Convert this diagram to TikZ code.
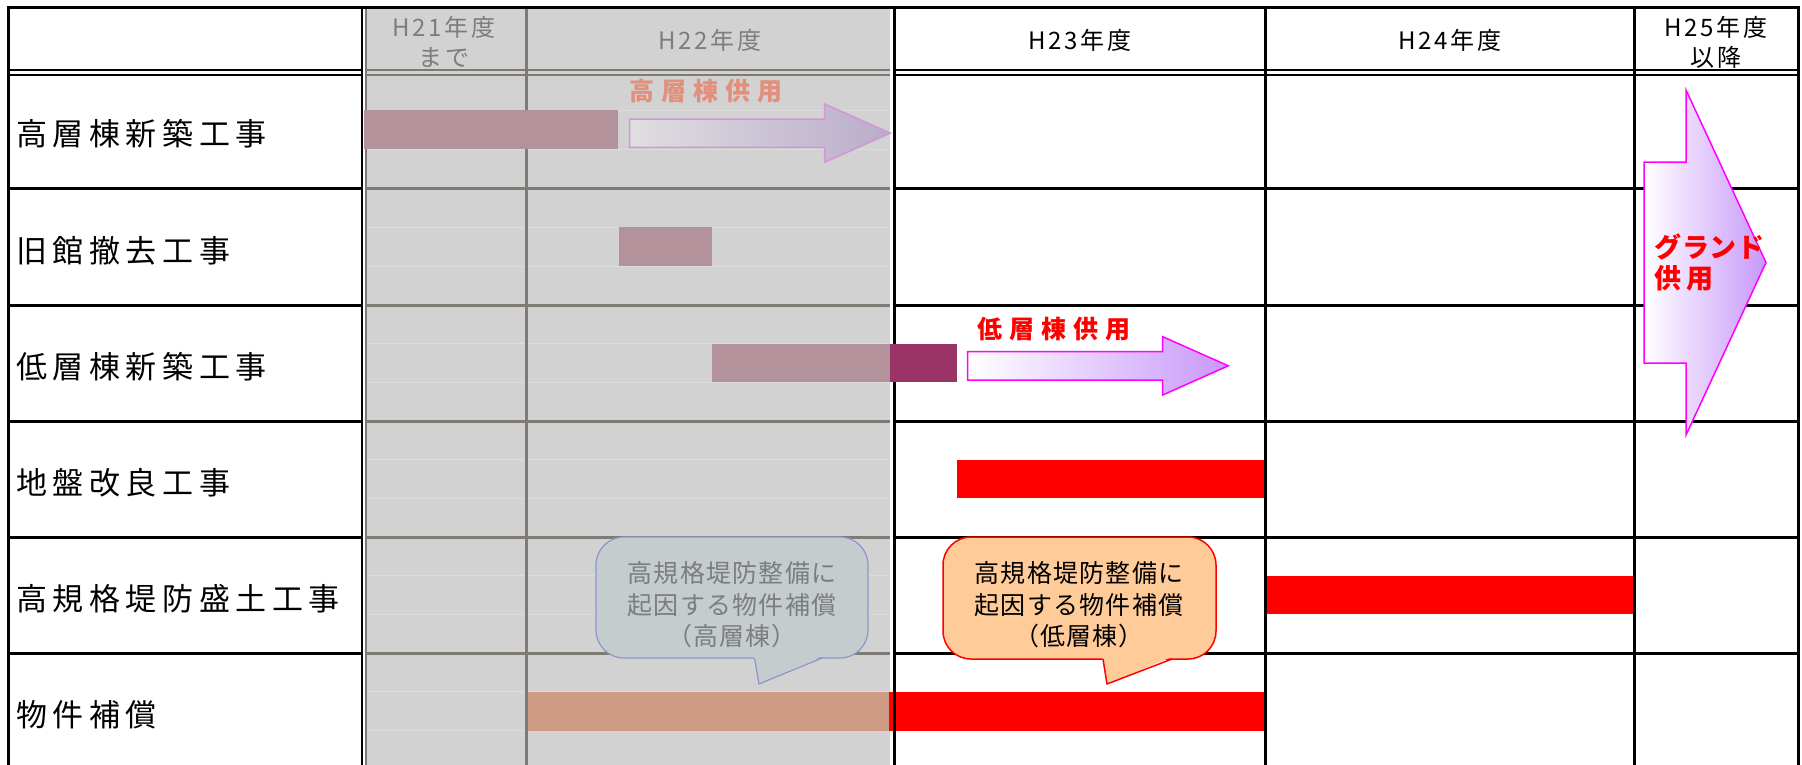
\documentclass[tikz,border=0pt]{standalone}
\usepackage{fontspec}
\setmainfont{Noto Sans CJK JP}
\newfontfamily\labfam[LetterSpace=18]{Noto Sans CJK JP}
\newfontfamily\hdrfam[LetterSpace=11]{Noto Sans CJK JP}
\newfontfamily\callfam[LetterSpace=5]{Noto Sans CJK JP}
\newfontfamily\usefam[LetterSpace=28]{Noto Sans CJK JP}
\newfontfamily\grandfam[LetterSpace=18]{Noto Sans CJK JP}
\newfontfamily\katafam[LetterSpace=3]{Noto Sans CJK JP}
\definecolor{gbg}{RGB}{210,210,210}
\definecolor{gline}{RGB}{128,122,117}
\definecolor{gfaint}{RGB}{220,220,220}
\definecolor{mbar}{RGB}{179,146,156}
\definecolor{sbar}{RGB}{208,155,132}
\definecolor{dbar}{RGB}{153,51,102}
\definecolor{lav}{RGB}{200,152,250}
\definecolor{mag}{RGB}{255,0,255}
\definecolor{mlav}{RGB}{185,172,202}
\definecolor{mleft}{RGB}{224,222,224}
\definecolor{mmag}{RGB}{212,150,212}
\definecolor{mtext}{RGB}{226,144,124}
\definecolor{gtext}{RGB}{125,125,125}
\definecolor{cfill}{RGB}{196,204,206}
\definecolor{cbord}{RGB}{140,150,200}
\definecolor{ofill}{RGB}{255,204,153}
\tikzset{
  rowlab/.style={anchor=west, inner sep=0pt, font=\labfam\fontsize{31}{36}\selectfont},
  hdr/.style={inner sep=0pt, align=center, font=\hdrfam\fontsize{24}{30}\selectfont},
  ctext/.style={inner sep=0pt, align=center, font=\callfam\fontsize{25}{31.5}\selectfont},
  usetext/.style={inner sep=0pt, font=\usefam\bfseries\fontsize{25}{30}\selectfont},
  grandtext/.style={inner sep=0pt, anchor=west, align=left, font=\grandfam\bfseries\fontsize{27}{31}\selectfont, text=red},
  blk/.style={draw=black, line width=3pt},
  blkthin/.style={draw=black, line width=2pt},
  gry/.style={draw=gline, line width=3pt},
  grythin/.style={draw=gline, line width=2pt},
  faint/.style={draw=gfaint, line width=1pt},
}
\begin{document}
\begin{tikzpicture}[x=1pt,y=-1pt]
\useasboundingbox (0,0) rectangle (1802,764);
\fill[white] (0,0) rectangle (1802,764);
\begin{scope}
\clip (0,0) rectangle (1802,764);
% gray (past) region
\fill[gbg] (366,8) rectangle (890,770);
\foreach \t/\b in {71/188,188/305,305/421,421/537,537/653,653/769}{
  \draw[faint] (367,{\t+(\b-\t)/3}) -- (890,{\t+(\b-\t)/3});
  \draw[faint] (367,{\t+2*(\b-\t)/3}) -- (890,{\t+2*(\b-\t)/3});
}
% gray grid lines
\draw[grythin] (365.5,8) -- (365.5,770);
\draw[gry] (526,8) -- (526,770);
\draw[grythin] (366,70) -- (890,70);
\draw[grythin] (366,75) -- (890,75);
\foreach \y in {188,305,421,537,653}{\draw[gry] (366,\y) -- (890,\y);}
% bars
\fill[mbar] (364,110) rectangle (618,149);
\fill[mbar] (619,227) rectangle (712,266);
\fill[mbar] (712,343.7) rectangle (890,382);
\fill[red] (957,459.7) rectangle (1264,498.3);
\fill[red] (1266,575.7) rectangle (1634,614.3);
\fill[sbar] (528,692) rectangle (889,730.5);
\fill[red] (889,692) rectangle (1264,730.5);
% black grid lines
\draw[blk] (6.5,7) -- (1799.5,7);
\draw[blk] (8,7) -- (8,770);
\draw[blk] (1798,7) -- (1798,770);
\draw[blkthin] (361.5,7) -- (361.5,770);
\draw[blk] (894,7) -- (894,770);
\draw[blk] (1265,7) -- (1265,770);
\draw[blk] (1634,7) -- (1634,770);
\draw[blkthin] (8,70) -- (361.5,70);
\draw[blkthin] (8,75) -- (361.5,75);
\draw[blkthin] (892.5,70) -- (1798,70);
\draw[blkthin] (892.5,75) -- (1798,75);
\foreach \y in {188,305,421,537,653}{
  \draw[blk] (8,\y) -- (361.5,\y);
  \draw[blk] (892.5,\y) -- (1798,\y);
}
\fill[dbar] (890,343.7) rectangle (957,381.5);
% header texts
\node[hdr, text=gtext] (h21) at (444,42) {H21年度\\まで};
\node[hdr, text=gtext] (h22) at (710,40) {H22年度};
\node[hdr] (h23) at (1080,40) {H23年度};
\node[hdr] (h24) at (1450,40) {H24年度};
\node[hdr] (h25) at (1716,42) {H25年度\\以降};
% row labels
\node[rowlab] (r1) at (16,133.5) {高層棟新築工事};
\node[rowlab] (r2) at (16,250.5) {旧館撤去工事};
\node[rowlab] (r3) at (16,367) {低層棟新築工事};
\node[rowlab] (r4) at (16,483) {地盤改良工事};
\node[rowlab] (r5) at (16,599) {高規格堤防盛土工事};
\node[rowlab] (r6) at (16,715) {物件補償};
% arrows
\path[draw=mmag, line width=1.5pt, left color=mleft, right color=mlav]
  (629.7,119) -- (824.7,119) -- (824.7,104) -- (890.3,133.1) -- (824.7,162.3) -- (824.7,147.3) -- (629.7,147.3) -- cycle;
\node[usetext, text=mtext] (u1) at (706,91) {高層棟供用};
\path[draw=mag, line width=1.5pt, left color=white, right color=lav]
  (967.7,351.7) -- (1162.7,351.7) -- (1162.7,336.7) -- (1228.3,365.8) -- (1162.7,395) -- (1162.7,380) -- (967.7,380) -- cycle;
\node[usetext, text=red] (u2) at (1054,329) {低層棟供用};
\path[draw=mag, line width=1.5pt, left color=white, right color=lav]
  (1644,162) -- (1686,162) -- (1686,90) -- (1766,262.5) -- (1686,435) -- (1686,363) -- (1644,363) -- cycle;
\node[grandtext] (g) at (1654,263) {{\katafam\bfseries グランド}\\供用};
% callouts
\path[fill=cfill, draw=cbord, line width=1.2pt, rounded corners=28pt] (596,537) rectangle (868,658);
\fill[cfill] (753.5,655) -- (759,684) -- (824,655) -- cycle;
\draw[cbord, line width=1.2pt, line join=round] (754.5,658) -- (759,684) -- (822,658);
\node[ctext, text=gtext] (c1) at (732,605) {高規格堤防整備に\\起因する物件補償\\（高層棟）};
\path[fill=ofill, draw=red, line width=1.5pt, rounded corners=28pt] (943,537) rectangle (1216,659);
\fill[ofill] (1102,656) -- (1107,684) -- (1174,656) -- cycle;
\draw[red, line width=1.5pt, line join=round] (1103,659) -- (1107,684) -- (1172,659);
\node[ctext] (c2) at (1079,605) {高規格堤防整備に\\起因する物件補償\\（低層棟）};
\end{scope}
\end{tikzpicture}
\end{document}
